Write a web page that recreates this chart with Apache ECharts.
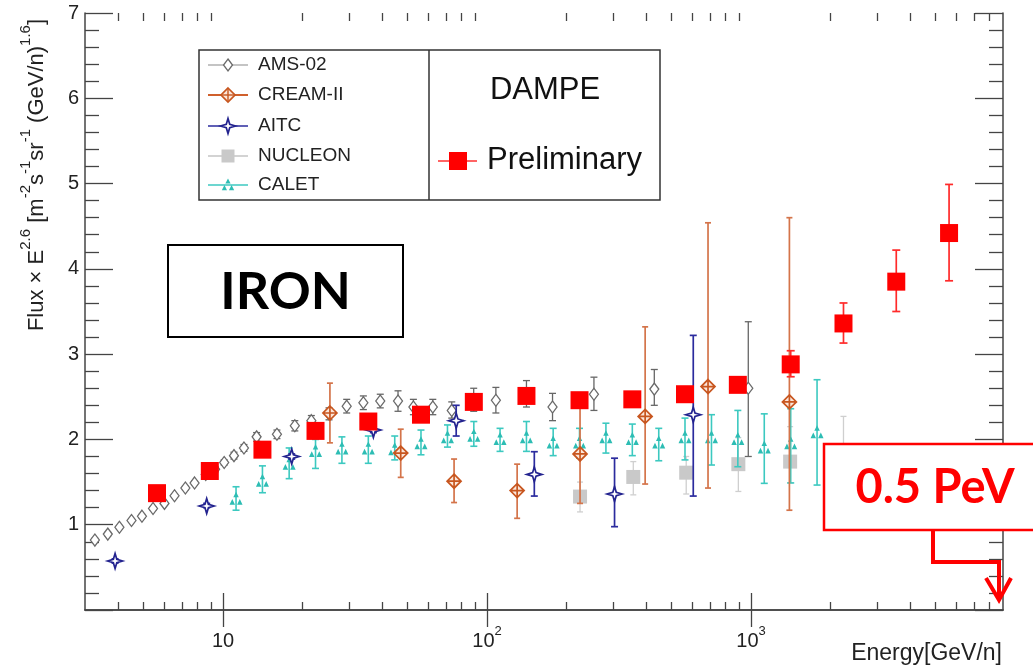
<!DOCTYPE html>
<html>
<head>
<meta charset="utf-8">
<script src="https://cdn.jsdelivr.net/npm/echarts@6/dist/echarts.min.js"></script>
<style>
  html, body { margin: 0; padding: 0; background: #fff; }
  #chart { width: 1033px; height: 669px; }
</style>
</head>
<body>
<div id="chart"></div>
<script>
// ---- axis ticks ----
const majorTicksX = [10, 100, 1000];
const xTickLabels = ['10', '10^2', '10^3'];
const minorTicksX = [4, 5, 6, 7, 8, 9, 20, 30, 40, 50, 60, 70, 80, 90,
  200, 300, 400, 500, 600, 700, 800, 900, 2000, 3000, 4000, 5000, 6000, 7000, 8000];

// ---- AMS-02 ----
const amsE   = [3.27, 3.66, 4.05, 4.5, 4.93, 5.43, 6.0, 6.55, 7.2, 7.8, 8.6, 9.33, 10.1, 11.0, 12.0, 13.4, 16.0, 18.7, 21.6, 25.2, 29.4, 34.0, 39.4, 46.0, 52.6, 62.3, 73.5, 89, 108, 141, 177, 254, 430, 976];
const amsV   = [0.82, 0.89, 0.97, 1.05, 1.10, 1.19, 1.25, 1.34, 1.43, 1.49, 1.59, 1.65, 1.73, 1.81, 1.90, 2.03, 2.06, 2.16, 2.22, 2.30, 2.39, 2.43, 2.45, 2.45, 2.38, 2.38, 2.34, 2.46, 2.46, 2.53, 2.38, 2.53, 2.59, 2.60];
const amsLo  = [0.80, 0.87, 0.95, 1.03, 1.08, 1.17, 1.23, 1.32, 1.41, 1.47, 1.57, 1.62, 1.70, 1.77, 1.86, 1.98, 2.01, 2.10, 2.16, 2.23, 2.31, 2.35, 2.37, 2.33, 2.29, 2.29, 2.25, 2.33, 2.31, 2.38, 2.22, 2.34, 2.40, 1.80];
const amsHi  = [0.84, 0.91, 0.99, 1.07, 1.12, 1.21, 1.27, 1.36, 1.45, 1.51, 1.61, 1.68, 1.76, 1.85, 1.94, 2.08, 2.11, 2.22, 2.28, 2.37, 2.47, 2.51, 2.53, 2.57, 2.47, 2.47, 2.44, 2.60, 2.61, 2.69, 2.54, 2.73, 2.82, 3.38];

// ---- CREAM-II ----
const creamE  = [25.4, 47.1, 75, 130, 225, 397, 687, 1397];
const creamV  = [2.31, 1.84, 1.51, 1.40, 1.83, 2.27, 2.62, 2.44];
const creamLo = [1.96, 1.555, 1.26, 1.075, 1.25, 1.477, 1.43, 1.17];
const creamHi = [2.66, 2.12, 1.77, 1.71, 2.45, 3.32, 4.54, 4.60];

// ---- AITC ----
const aitcE  = [3.9, 8.67, 18.2, 37.1, 76.4, 151, 304, 604];
const aitcV  = [0.575, 1.22, 1.80, 2.11, 2.22, 1.59, 1.36, 2.29];
const aitcLo = [0.55, 1.20, 1.77, 2.08, 2.04, 1.336, 0.977, 1.336];
const aitcHi = [0.60, 1.25, 1.83, 2.14, 2.40, 1.856, 1.78, 3.22];

// ---- NUCLEON ----
const nucE  = [225, 358, 568, 895, 1406, 2239];
const nucV  = [1.33, 1.56, 1.61, 1.71, 1.74, 1.78];
const nucLo = [1.15, 1.35, 1.36, 1.39, 1.49, 1.40];
const nucHi = [1.50, 1.74, 1.80, 2.02, 2.15, 2.27];

// ---- CALET ----
const caletE  = [11.2, 14.1, 17.8, 22.4, 28.2, 35.5, 44.7, 56.2, 70.8, 89.1, 112, 141, 178, 224, 282, 355, 447, 562, 708, 891, 1122, 1413, 1778];
const caletV  = [1.31, 1.52, 1.72, 1.87, 1.90, 1.90, 1.89, 1.96, 2.03, 2.05, 2.01, 2.03, 1.97, 1.97, 2.03, 2.01, 1.97, 2.03, 2.03, 2.01, 1.91, 1.96, 2.09];
const caletLo = [1.17, 1.375, 1.54, 1.66, 1.72, 1.72, 1.76, 1.82, 1.91, 1.92, 1.86, 1.86, 1.81, 1.78, 1.84, 1.81, 1.75, 1.76, 1.70, 1.68, 1.485, 1.49, 1.465];
const caletHi = [1.445, 1.69, 1.90, 2.00, 2.03, 2.04, 2.04, 2.11, 2.17, 2.21, 2.13, 2.21, 2.13, 2.13, 2.19, 2.18, 2.13, 2.25, 2.29, 2.34, 2.30, 2.36, 2.70];

// ---- DAMPE (preliminary) ----
const dampeE  = [5.62, 8.91, 14.1, 22.4, 35.5, 56.2, 89.1, 141, 224, 355, 562, 891, 1413, 2239, 3548, 5623];
const dampeV  = [1.37, 1.63, 1.88, 2.10, 2.21, 2.29, 2.44, 2.51, 2.46, 2.47, 2.53, 2.64, 2.88, 3.36, 3.85, 4.42];
const dampeLo = [1.33, 1.59, 1.84, 2.05, 2.16, 2.24, 2.39, 2.45, 2.40, 2.41, 2.46, 2.56, 2.735, 3.13, 3.50, 3.86];
const dampeHi = [1.41, 1.67, 1.92, 2.15, 2.26, 2.34, 2.49, 2.57, 2.52, 2.53, 2.60, 2.72, 3.04, 3.60, 4.22, 4.99];

// ---- marker outlines (unit polygons, radius 1) ----
const POLY_DIAMOND = [[[0, -1], [1, 0], [0, 1], [-1, 0]]];
const POLY_SQUARE  = [[[-1, -1], [1, -1], [1, 1], [-1, 1]]];
const POLY_STAR    = [[[0, -1], [0.23, -0.23], [1, 0], [0.23, 0.23], [0, 1], [-0.23, 0.23], [-1, 0], [-0.23, -0.23]]];
const POLY_TRI3    = [
  [[0, -1], [0.4, -0.25], [-0.4, -0.25]],
  [[-0.55, 0.0], [-0.15, 0.8], [-0.95, 0.8]],
  [[0.55, 0.0], [0.95, 0.8], [0.15, 0.8]]
];

function polyPath(polys, withCross) {
  let d = polys.map(p => 'M' + p.map(q => q[0] * 10 + ',' + q[1] * 10).join(' L') + ' Z').join(' ');
  if (withCross) d += ' M0,-10 L0,10 M-10,0 L10,0';
  return 'path://' + d;
}

const FONT = '"Liberation Sans", Arial, Helvetica, sans-serif';
const AXIS_COLOR = '#444';

function rows(e, v, lo, hi) {
  return e.map((x, i) => [x, v[i], lo[i], hi[i]]);
}

// vertical error bar with end caps, placed through the axes' own scales
function errorBars(color, capW, lw) {
  return function (params, api) {
    const x = api.value(0);
    const top = api.coord([x, api.value(3)]);
    const bot = api.coord([x, api.value(2)]);
    const st = { stroke: color, lineWidth: lw };
    return {
      type: 'group',
      children: [
        { type: 'line', shape: { x1: top[0], y1: top[1], x2: bot[0], y2: bot[1] }, style: st },
        { type: 'line', shape: { x1: top[0] - capW / 2, y1: top[1], x2: top[0] + capW / 2, y2: top[1] }, style: st },
        { type: 'line', shape: { x1: bot[0] - capW / 2, y1: bot[1], x2: bot[0] + capW / 2, y2: bot[1] }, style: st }
      ]
    };
  };
}

function experiment(name, data, barColor, capW, lw, marker, z) {
  return [
    {
      name: name + ' errors', type: 'custom', xAxisIndex: 0, yAxisIndex: 0,
      renderItem: errorBars(barColor, capW, lw), data: data,
      encode: { x: 0, y: 1 }, z: z, silent: true
    },
    Object.assign({
      name: name, type: 'scatter', xAxisIndex: 0, yAxisIndex: 0,
      data: data.map(r => [r[0], r[1]]), z: z + 1, silent: true
    }, marker)
  ];
}

const STYLE_AMS   = { color: '#fff', borderColor: '#6a6a6a', borderWidth: 1.3, opacity: 1 };
const STYLE_NUC   = { color: '#c9c9c9', opacity: 1 };
const STYLE_CALET = { color: '#2dbdb4', opacity: 1 };
const STYLE_AITC  = { color: '#fff', borderColor: '#23238f', borderWidth: 1.7, opacity: 1 };
const STYLE_CREAM = { color: '#fbe6da', borderColor: '#c8561f', borderWidth: 1.7, opacity: 1 };
const STYLE_DAMPE = { color: '#ff0000', opacity: 1 };

const series = [].concat(
  experiment('AMS-02', rows(amsE, amsV, amsLo, amsHi), '#666', 7, 1.3,
    { symbol: 'diamond', symbolSize: [9, 12], itemStyle: STYLE_AMS }, 2),
  experiment('NUCLEON', rows(nucE, nucV, nucLo, nucHi), '#cfcfcf', 6, 1.3,
    { symbol: 'rect', symbolSize: 14, itemStyle: STYLE_NUC }, 4),
  experiment('CALET', rows(caletE, caletV, caletLo, caletHi), '#3cc9c0', 7, 1.6,
    { symbol: polyPath(POLY_TRI3), symbolSize: [13, 13], itemStyle: STYLE_CALET }, 6),
  experiment('AITC', rows(aitcE, aitcV, aitcLo, aitcHi), '#2b2b9e', 7, 1.7,
    { symbol: polyPath(POLY_STAR), symbolSize: 15, itemStyle: STYLE_AITC }, 8),
  experiment('CREAM-II', rows(creamE, creamV, creamLo, creamHi), '#d4744a', 6, 1.7,
    { symbol: polyPath(POLY_DIAMOND, true), symbolSize: 14, itemStyle: STYLE_CREAM }, 10),
  experiment('DAMPE', rows(dampeE, dampeV, dampeLo, dampeHi), '#ff2a2a', 8, 1.7,
    { symbol: 'rect', symbolSize: 18, itemStyle: STYLE_DAMPE }, 12)
);

// ---- axes ----
const gridRect = { left: 85, right: 30, top: 13, bottom: 59, containLabel: false };

function logAxis(grid, position, ticks, len, line, labels) {
  return {
    type: 'log', logBase: 10, min: 3, max: 9000, gridIndex: grid, position: position,
    axisLine: { show: line, lineStyle: { color: AXIS_COLOR, width: 1.5 } },
    axisTick: { show: true, inside: true, length: len, customValues: ticks, lineStyle: { color: AXIS_COLOR, width: 1.3 } },
    axisLabel: labels ? {
      show: true, customValues: majorTicksX, margin: 15, color: '#222',
      fontFamily: FONT,
      formatter: function (val) {
        const i = majorTicksX.findIndex(t => Math.abs(t - val) / t < 1e-6);
        if (i < 0) return '';
        const parts = xTickLabels[i].split('^');
        return parts.length > 1 ? '{b|' + parts[0] + '}{s|' + parts[1] + '}' : '{b|' + parts[0] + '}';
      },
      rich: {
        b: { fontSize: 20, lineHeight: 26, verticalAlign: 'bottom', fontFamily: FONT, color: '#222' },
        s: { fontSize: 13, lineHeight: 13, verticalAlign: 'top', fontFamily: FONT, color: '#222' }
      }
    } : { show: false },
    splitLine: { show: false }, minorTick: { show: false }, minorSplitLine: { show: false }
  };
}

function linAxis(grid, position, labels, visible) {
  return {
    type: 'value', min: 0, max: 7, interval: 1, gridIndex: grid, position: position, show: visible,
    axisLine: { show: true, lineStyle: { color: AXIS_COLOR, width: 1.5 } },
    axisTick: { show: true, inside: true, length: 28, lineStyle: { color: AXIS_COLOR, width: 1.3 } },
    minorTick: { show: true, splitNumber: 5, length: 14, lineStyle: { color: AXIS_COLOR, width: 1.3 } },
    axisLabel: labels ? {
      show: true, margin: 6, fontSize: 20, color: '#222', fontFamily: FONT,
      formatter: v => (v === 0 ? '' : String(v))
    } : { show: false },
    splitLine: { show: false }
  };
}

// ---- legend, annotations and titles ----
function legendSymbol(polys, cx, cy, w, h, style) {
  return polys.map(p => ({
    type: 'polygon', z: 102,
    shape: { points: p.map(q => [cx + q[0] * w / 2, cy + q[1] * h / 2]) },
    style: Object.assign({}, style)
  }));
}
function seg(x1, y1, x2, y2, color, lw, z) {
  return { type: 'line', z: z || 101, shape: { x1: x1, y1: y1, x2: x2, y2: y2 }, style: { stroke: color, lineWidth: lw } };
}
function legendText(str, x, y) {
  return { type: 'text', z: 101, x: x, y: y, style: { text: str, fontSize: 19, fontFamily: FONT, fill: '#222', align: 'left', verticalAlign: 'middle' } };
}

const legendRows = [65, 95, 126, 156, 185];
const LX = 228;
const graphics = [].concat(
  // legend frame
  [{ type: 'rect', z: 100, shape: { x: 199, y: 50, width: 461, height: 150 }, style: { fill: '#fff', stroke: '#333', lineWidth: 1.5 } },
   seg(429, 50, 429, 200, '#333', 1.5)],

  [seg(208, legendRows[0], 248, legendRows[0], '#8a8a8a', 1.2)],
  legendSymbol(POLY_DIAMOND, LX, legendRows[0], 9, 12, { fill: '#fff', stroke: '#6a6a6a', lineWidth: 1.3 }),
  [legendText('AMS-02', 258, legendRows[0])],

  [seg(208, legendRows[1], 248, legendRows[1], '#d0602c', 2.2)],
  legendSymbol(POLY_DIAMOND, LX, legendRows[1], 14, 14, { fill: '#fbe6da', stroke: '#c8561f', lineWidth: 1.7 }),
  [seg(LX, legendRows[1] - 7, LX, legendRows[1] + 7, '#c8561f', 1.4, 103),
   seg(LX - 7, legendRows[1], LX + 7, legendRows[1], '#c8561f', 1.4, 103),
   legendText('CREAM-II', 258, legendRows[1])],

  [seg(208, legendRows[2], 248, legendRows[2], '#2b2b9e', 1.6)],
  legendSymbol(POLY_STAR, LX, legendRows[2], 15, 15, { fill: '#fff', stroke: '#23238f', lineWidth: 1.7 }),
  [legendText('AITC', 258, legendRows[2])],

  [seg(208, legendRows[3], 248, legendRows[3], '#c4c4c4', 1.3)],
  legendSymbol(POLY_SQUARE, LX, legendRows[3], 13, 13, { fill: '#c9c9c9' }),
  [legendText('NUCLEON', 258, legendRows[3])],

  [seg(208, legendRows[4], 248, legendRows[4], '#3cc9c0', 1.6)],
  legendSymbol(POLY_TRI3, LX, legendRows[4], 13, 13, { fill: '#2dbdb4' }),
  [legendText('CALET', 258, legendRows[4])],

  [{ type: 'text', z: 101, x: 545, y: 90, style: { text: 'DAMPE', fontSize: 31, fontFamily: FONT, fill: '#111', align: 'center', verticalAlign: 'middle' } },
   seg(438, 161, 477, 161, '#ff3030', 1.6)],
  legendSymbol(POLY_SQUARE, 458, 161, 18, 18, { fill: '#ff0000' }),
  [{ type: 'text', z: 101, x: 487, y: 160, style: { text: 'Preliminary', fontSize: 31, fontFamily: FONT, fill: '#111', align: 'left', verticalAlign: 'middle' } }],

  // element label
  [{ type: 'rect', z: 100, shape: { x: 168, y: 245, width: 235, height: 92 }, style: { fill: '#fff', stroke: '#000', lineWidth: 2 } },
   { type: 'text', z: 101, x: 285.5, y: 292, style: { text: 'IRON', fontSize: 52, fontWeight: 'bold', fontFamily: 'Lato, "Open Sans", sans-serif', fill: '#000', align: 'center', verticalAlign: 'middle' } }],

  // energy reach annotation
  [{ type: 'rect', z: 100, shape: { x: 824, y: 444, width: 230, height: 86 }, style: { fill: '#fff', stroke: '#ff0000', lineWidth: 2.5 } },
   { type: 'text', z: 101, x: 935, y: 488, style: { text: '0.5 PeV', fontSize: 47, fontWeight: 'bold', fontFamily: 'Lato, "Open Sans", sans-serif', fill: '#ff0000', align: 'center', verticalAlign: 'middle' } },
   { type: 'polyline', z: 101, shape: { points: [[933, 531], [933, 562], [999, 562], [999, 598]] }, style: { stroke: '#ff0000', lineWidth: 4, fill: null, lineJoin: 'miter' } },
   { type: 'polyline', z: 101, shape: { points: [[986, 578], [999, 600], [1011, 578]] }, style: { stroke: '#ff0000', lineWidth: 4, fill: null, lineJoin: 'miter' } }],

  // axis titles
  [{
    type: 'text', z: 101, x: 33, y: 175, rotation: Math.PI / 2,
    style: {
      text: '{m|Flux × E}{s|2.6}{m| [m}{s|-2}{m|s}{s|-1}{m|sr}{s|-1}{m| (GeV/n)}{s|1.6}{m|]}',
      align: 'center', verticalAlign: 'middle', fill: '#222',
      rich: {
        m: { fontSize: 22, lineHeight: 29, verticalAlign: 'bottom', fontFamily: FONT, fill: '#222' },
        s: { fontSize: 15, lineHeight: 15, verticalAlign: 'top', fontFamily: FONT, fill: '#222' }
      }
    }
  },
  { type: 'text', z: 101, x: 1002, y: 654, style: { text: 'Energy[GeV/n]', fontSize: 23, fontFamily: FONT, fill: '#222', align: 'right', verticalAlign: 'middle' } }]
);

const chart = echarts.init(document.getElementById('chart'), null, { renderer: 'canvas' });
chart.setOption({
  animation: false,
  backgroundColor: '#fff',
  grid: [Object.assign({}, gridRect), Object.assign({}, gridRect)],
  xAxis: [
    logAxis(0, 'bottom', majorTicksX, 17, true, true),
    logAxis(0, 'top', majorTicksX, 17, true, false),
    logAxis(1, 'bottom', minorTicksX, 8, false, false),
    logAxis(1, 'top', minorTicksX, 8, false, false)
  ],
  yAxis: [
    linAxis(0, 'left', true, true),
    linAxis(0, 'right', false, true),
    linAxis(1, 'left', false, false)
  ],
  series: series,
  graphic: { elements: graphics }
});
</script>
</body>
</html>
